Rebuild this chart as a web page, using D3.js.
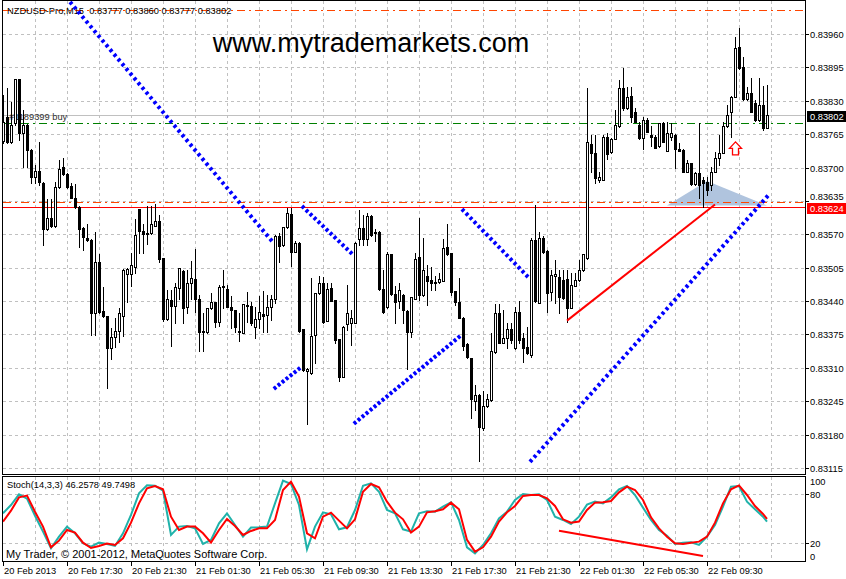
<!DOCTYPE html>
<html>
<head>
<meta charset="utf-8">
<script src="https://cdn.jsdelivr.net/npm/d3@7/dist/d3.min.js"></script>
<style>
html,body{margin:0;padding:0;background:#fff;}
svg{display:block;}
text{font-family:"Liberation Sans",Arial,sans-serif;}
</style>
</head>
<body>
<svg id="chart" width="846" height="579"></svg>
<script>
// ---------------- DATA ----------------
const headerText = "NZDUSD-Pro,M15  0.83777 0.83860 0.83777 0.83802";
const watermark = "www.mytrademarkets.com";
const stochTitle = "Stoch(14,3,3) 46.2578 49.7498";
const copyright = "My Trader, \u00A9 2001-2012, MetaQuotes Software Corp.";
const orderLabel = "#1189399 buy";

const openP = [0.83752,0.83798,0.83750,0.83786,0.83872,0.83768,0.83783,0.83734,0.83682,0.83693,0.83670,0.83580,0.83601,0.83587,0.83662,0.83702,0.83687,0.83664,0.83641,0.83623,0.83582,0.83563,0.83559,0.83417,0.83516,0.83421,0.83410,0.83349,0.83371,0.83382,0.83410,0.83493,0.83492,0.83507,0.83619,0.83576,0.83573,0.83572,0.83587,0.83596,0.83523,0.83405,0.83442,0.83431,0.83465,0.83499,0.83429,0.83475,0.83483,0.83444,0.83382,0.83380,0.83426,0.83438,0.83400,0.83467,0.83463,0.83428,0.83423,0.83382,0.83378,0.83430,0.83430,0.83390,0.83405,0.83415,0.83412,0.83428,0.83444,0.83567,0.83549,0.83584,0.83610,0.83536,0.83554,0.83385,0.83304,0.83299,0.83373,0.83455,0.83475,0.83402,0.83465,0.83442,0.83366,0.83293,0.83395,0.83398,0.83398,0.83561,0.83582,0.83561,0.83606,0.83573,0.83575,0.83463,0.83428,0.83531,0.83454,0.83440,0.83452,0.83421,0.83379,0.83445,0.83526,0.83451,0.83489,0.83481,0.83478,0.83477,0.83480,0.83545,0.83533,0.83459,0.83439,0.83408,0.83356,0.83329,0.83245,0.83257,0.83193,0.83235,0.83247,0.83340,0.83416,0.83359,0.83368,0.83386,0.83348,0.83418,0.83369,0.83350,0.83335,0.83559,0.83437,0.83563,0.83538,0.83457,0.83488,0.83486,0.83481,0.83483,0.83427,0.83470,0.83481,0.83501,0.83523,0.83746,0.83728,0.83676,0.83676,0.83760,0.83730,0.83756,0.83780,0.83854,0.83815,0.83839,0.83809,0.83783,0.83757,0.83793,0.83763,0.83760,0.83741,0.83786,0.83733,0.83760,0.83763,0.83737,0.83734,0.83692,0.83708,0.83668,0.83690,0.83676,0.83672,0.83666,0.83692,0.83718,0.83729,0.83780,0.83809,0.83838,0.83934,0.83896,0.83833,0.83845,0.83826,0.83793,0.83822,0.83777];
const highP = [0.83841,0.83854,0.83828,0.83873,0.83873,0.83812,0.83785,0.83736,0.83705,0.83750,0.83672,0.83638,0.83638,0.83671,0.83715,0.83719,0.83689,0.83670,0.83668,0.83625,0.83585,0.83591,0.83560,0.83575,0.83531,0.83468,0.83411,0.83388,0.83407,0.83427,0.83503,0.83505,0.83534,0.83599,0.83620,0.83590,0.83625,0.83625,0.83629,0.83608,0.83524,0.83462,0.83462,0.83475,0.83505,0.83500,0.83501,0.83518,0.83541,0.83452,0.83417,0.83427,0.83455,0.83439,0.83471,0.83500,0.83471,0.83449,0.83423,0.83416,0.83435,0.83458,0.83439,0.83429,0.83449,0.83460,0.83452,0.83451,0.83569,0.83572,0.83585,0.83622,0.83621,0.83556,0.83555,0.83386,0.83310,0.83484,0.83456,0.83488,0.83486,0.83475,0.83475,0.83442,0.83366,0.83391,0.83471,0.83423,0.83555,0.83617,0.83608,0.83612,0.83608,0.83580,0.83576,0.83501,0.83536,0.83532,0.83469,0.83475,0.83454,0.83423,0.83448,0.83533,0.83602,0.83562,0.83510,0.83507,0.83488,0.83494,0.83560,0.83591,0.83534,0.83460,0.83484,0.83409,0.83358,0.83330,0.83277,0.83259,0.83264,0.83260,0.83377,0.83434,0.83434,0.83423,0.83397,0.83397,0.83429,0.83441,0.83377,0.83390,0.83562,0.83628,0.83575,0.83567,0.83539,0.83501,0.83520,0.83501,0.83501,0.83501,0.83494,0.83494,0.83520,0.83532,0.83854,0.83763,0.83763,0.83692,0.83763,0.83767,0.83758,0.83812,0.83870,0.83893,0.83857,0.83857,0.83815,0.83789,0.83799,0.83796,0.83780,0.83763,0.83787,0.83789,0.83789,0.83786,0.83765,0.83747,0.83736,0.83715,0.83709,0.83692,0.83786,0.83682,0.83682,0.83702,0.83731,0.83763,0.83789,0.83822,0.83839,0.83955,0.83971,0.83916,0.83857,0.83874,0.83832,0.83874,0.83859,0.83860];
const lowP = [0.83748,0.83748,0.83747,0.83783,0.83754,0.83702,0.83702,0.83669,0.83669,0.83666,0.83549,0.83578,0.83585,0.83584,0.83660,0.83685,0.83660,0.83640,0.83622,0.83546,0.83539,0.83556,0.83374,0.83374,0.83417,0.83409,0.83271,0.83327,0.83351,0.83361,0.83372,0.83439,0.83469,0.83495,0.83534,0.83534,0.83551,0.83571,0.83586,0.83517,0.83402,0.83403,0.83353,0.83397,0.83444,0.83398,0.83416,0.83445,0.83419,0.83343,0.83343,0.83378,0.83425,0.83390,0.83392,0.83427,0.83428,0.83388,0.83380,0.83363,0.83377,0.83400,0.83393,0.83369,0.83387,0.83380,0.83380,0.83403,0.83436,0.83517,0.83547,0.83582,0.83508,0.83535,0.83380,0.83304,0.83201,0.83298,0.83319,0.83454,0.83397,0.83401,0.83440,0.83358,0.83285,0.83292,0.83384,0.83354,0.83397,0.83549,0.83549,0.83549,0.83567,0.83556,0.83462,0.83417,0.83427,0.83452,0.83397,0.83427,0.83397,0.83308,0.83371,0.83444,0.83442,0.83450,0.83432,0.83462,0.83462,0.83475,0.83479,0.83530,0.83452,0.83432,0.83407,0.83345,0.83329,0.83212,0.83228,0.83129,0.83189,0.83234,0.83246,0.83339,0.83358,0.83358,0.83348,0.83358,0.83347,0.83358,0.83322,0.83337,0.83332,0.83439,0.83436,0.83534,0.83418,0.83442,0.83436,0.83416,0.83445,0.83400,0.83426,0.83469,0.83479,0.83499,0.83522,0.83692,0.83669,0.83672,0.83675,0.83716,0.83728,0.83755,0.83779,0.83812,0.83814,0.83789,0.83788,0.83756,0.83737,0.83769,0.83741,0.83738,0.83740,0.83749,0.83732,0.83754,0.83699,0.83732,0.83691,0.83691,0.83666,0.83666,0.83641,0.83624,0.83647,0.83656,0.83691,0.83705,0.83728,0.83779,0.83760,0.83837,0.83892,0.83832,0.83832,0.83808,0.83791,0.83791,0.83773,0.83777];
const closeP = [0.83789,0.83750,0.83783,0.83872,0.83767,0.83783,0.83734,0.83682,0.83693,0.83672,0.83580,0.83602,0.83587,0.83663,0.83697,0.83687,0.83663,0.83641,0.83623,0.83580,0.83565,0.83558,0.83417,0.83516,0.83419,0.83410,0.83349,0.83370,0.83382,0.83417,0.83501,0.83503,0.83510,0.83569,0.83577,0.83570,0.83570,0.83590,0.83596,0.83522,0.83405,0.83444,0.83431,0.83468,0.83504,0.83427,0.83475,0.83484,0.83444,0.83380,0.83379,0.83426,0.83438,0.83400,0.83468,0.83469,0.83429,0.83423,0.83389,0.83380,0.83434,0.83432,0.83397,0.83405,0.83419,0.83411,0.83428,0.83444,0.83567,0.83548,0.83584,0.83611,0.83536,0.83554,0.83382,0.83306,0.83308,0.83372,0.83455,0.83475,0.83400,0.83463,0.83441,0.83364,0.83293,0.83390,0.83416,0.83408,0.83554,0.83582,0.83561,0.83605,0.83569,0.83575,0.83463,0.83418,0.83531,0.83454,0.83438,0.83462,0.83423,0.83380,0.83447,0.83521,0.83451,0.83501,0.83480,0.83475,0.83475,0.83483,0.83543,0.83532,0.83458,0.83439,0.83408,0.83353,0.83332,0.83250,0.83257,0.83195,0.83235,0.83249,0.83342,0.83416,0.83359,0.83368,0.83386,0.83364,0.83418,0.83364,0.83349,0.83338,0.83559,0.83440,0.83563,0.83535,0.83455,0.83491,0.83492,0.83448,0.83446,0.83427,0.83471,0.83481,0.83501,0.83531,0.83750,0.83728,0.83679,0.83682,0.83760,0.83726,0.83756,0.83782,0.83854,0.83815,0.83838,0.83799,0.83789,0.83757,0.83793,0.83770,0.83760,0.83739,0.83786,0.83750,0.83767,0.83767,0.83737,0.83733,0.83692,0.83708,0.83668,0.83690,0.83666,0.83670,0.83656,0.83692,0.83718,0.83729,0.83781,0.83802,0.83838,0.83932,0.83893,0.83833,0.83846,0.83809,0.83793,0.83822,0.83777,0.83802];

// price-axis tick labels and time-axis labels (bar index of each label)
const priceTicks = [0.83960,0.83895,0.83830,0.83765,0.83700,0.83635,0.83570,0.83505,0.83440,0.83375,0.83310,0.83245,0.83180,0.83115];
const timeLabels = ["20 Feb 2013","20 Feb 17:30","20 Feb 21:30","21 Feb 01:30","21 Feb 05:30","21 Feb 09:30","21 Feb 13:30","21 Feb 17:30","21 Feb 21:30","22 Feb 01:30","22 Feb 05:30","22 Feb 09:30"];
const timeLabelBars = [0,16,32,48,64,80,96,112,128,144,160,176];
const stochTicks = [100,80,20,0];
const stochLevels = [80,20];

// Stochastic (every second bar + last bar)
const stochBars = [0,2,4,6,8,10,12,14,16,18,20,22,24,26,28,30,32,34,36,38,40,42,44,46,48,50,52,54,56,58,60,62,64,66,68,70,72,74,76,78,80,82,84,86,88,90,92,94,96,98,100,102,104,106,108,110,112,114,116,118,120,122,124,126,128,130,132,134,136,138,140,142,144,146,148,150,152,154,156,158,160,162,164,166,168,170,172,174,176,178,180,182,184,186,188,190,191];
const stochMain = [56.5,66.6,79.6,74.3,53.6,34.2,13.9,28.1,40.3,32.2,20.0,15.9,20.8,19.2,16.8,32.2,54.5,80.8,90.5,90.1,84.1,30.1,40.3,41.1,38.2,19.2,24.1,44.3,56.5,42.3,28.1,39.1,39.5,40.3,68.6,96.2,92.2,66.6,12.7,40.3,57.7,55.3,37.0,39.5,60.5,90.1,93.0,82.8,60.5,56.5,37.0,34.2,56.5,58.9,58.5,64.6,69.9,48.4,15.1,7.8,18.0,32.2,50.4,58.5,72.7,80.0,78.8,79.6,72.7,52.4,48.4,43.5,52.4,67.0,70.7,68.6,75.9,85.7,89.7,78.8,63.4,48.4,36.2,29.3,19.2,20.8,21.2,18.0,28.1,42.3,64.6,88.9,89.7,70.7,61.4,52.4,46.26];
const stochSignal = [46.4,59.7,75.9,78.0,58.5,40.3,15.1,23.2,36.2,33.0,20.8,14.3,16.8,19.6,18.0,26.1,45.1,68.6,86.9,89.7,85.7,52.4,36.2,40.3,40.3,32.2,20.8,36.2,49.6,41.1,30.1,35.0,38.2,38.2,48.4,84.9,95.0,76.8,32.2,26.1,52.4,57.3,47.6,38.2,49.2,82.8,92.2,88.1,70.7,57.3,49.2,33.0,40.3,57.7,58.9,61.4,69.5,61.4,24.1,9.9,15.1,28.1,46.4,57.7,65.4,77.6,78.8,78.8,74.7,65.4,49.2,45.1,46.4,60.5,69.5,69.9,71.5,82.0,88.9,84.9,72.7,51.6,38.2,28.1,20.0,19.2,20.8,22.0,28.1,45.1,68.6,85.7,90.5,78.8,65.4,55.7,49.75];

// Objects on the chart (bar index, price)
const dotLineSegments = [[17,0.84020,67,0.83559],[68,0.83271,74,0.83308],[75,0.83623,87,0.83534],[88,0.83203,114,0.83370],[115,0.83617,131,0.83489],[132,0.83129,191,0.83643]];
const redTrend = [141,0.83402,178,0.83628];
const stochTrend = [139,35.3,175,4.5];
const triangle = [[166,0.83626],[176,0.83674],[191,0.83626]];
const arrowUp = [183,0.83750];
const bidPrice = 0.83802;
const orderOpen = 0.83787;
const orderSL = 0.83633;
const orderTP = 0.84007;
const hLinePrice = 0.83624;

// ---------------- DRAW ----------------
const svg = d3.select("#chart");
const W = 846, H = 579;
const mainL = 3, mainR = 805, mainT = 1, mainB = 474;
const subT = 477, subB = 561;

const x = d3.scaleLinear().domain([0, 191]).range([3, 767]);
const y = d3.scaleLinear().domain([0.83115, 0.83960]).range([468, 34]);
const ys = d3.scaleLinear().domain([20, 80]).range([543.3, 494]);

svg.append("rect").attr("width", W).attr("height", H).attr("fill", "#fff");

const defs = svg.append("defs");
defs.append("clipPath").attr("id", "clipMain").append("rect")
  .attr("x", mainL).attr("y", mainT).attr("width", mainR - mainL).attr("height", mainB - mainT);
defs.append("clipPath").attr("id", "clipSub").append("rect")
  .attr("x", mainL).attr("y", subT).attr("width", mainR - mainL).attr("height", subB - subT);

const gridColor = "#c0c0c0";
const grid = svg.append("g").attr("shape-rendering", "crispEdges");
const vBars = d3.range(8, 200, 8).filter(b => x(b) < mainR);
vBars.forEach(b => {
  const px = Math.round(x(b)) + 0.5;
  grid.append("line").attr("x1", px).attr("x2", px).attr("y1", mainT).attr("y2", mainB)
    .attr("stroke", gridColor).attr("stroke-dasharray", "3,3");
  grid.append("line").attr("x1", px).attr("x2", px).attr("y1", subT).attr("y2", subB)
    .attr("stroke", gridColor).attr("stroke-dasharray", "3,3");
});
priceTicks.forEach(p => {
  const py = Math.round(y(p)) + 0.5;
  grid.append("line").attr("x1", mainL).attr("x2", mainR).attr("y1", py).attr("y2", py)
    .attr("stroke", gridColor).attr("stroke-dasharray", "3,3");
});
stochLevels.forEach(v => {
  const py = Math.round(ys(v)) + 0.5;
  grid.append("line").attr("x1", mainL).attr("x2", mainR).attr("y1", py).attr("y2", py)
    .attr("stroke", gridColor).attr("stroke-dasharray", "3,3");
});

const main = svg.append("g").attr("clip-path", "url(#clipMain)");

main.append("path")
  .attr("d", d3.line().x(d => x(d[0])).y(d => y(d[1]))(triangle) + "Z")
  .attr("fill", "#b0c4de").attr("stroke", "none");

function hline(p, color, dash, w) {
  const py = Math.round(y(p)) + 0.5;
  main.append("line").attr("x1", mainL).attr("x2", mainR).attr("y1", py).attr("y2", py)
    .attr("stroke", color).attr("stroke-width", w || 1)
    .attr("stroke-dasharray", dash || null).attr("shape-rendering", "crispEdges");
}
hline(bidPrice, "#c0c0c0");
hline(orderOpen, "#008000", "8,4,2,4");
hline(orderSL, "#ff4500", "8,4,2,4");
hline(orderTP, "#ff4500", "8,4,2,4");
hline(hLinePrice, "#ff0000");

main.append("text").attr("x", 7).attr("y", 14).attr("font-size", 9.3)
  .style("white-space", "pre").attr("fill", "#000").text(headerText);
main.append("text").attr("x", 9).attr("y", 120).attr("font-size", 9.3)
  .attr("fill", "#303030").text(orderLabel);
main.append("text").attr("x", 371).attr("y", 52).attr("font-size", 27)
  .attr("text-anchor", "middle").attr("fill", "#000").text(watermark);

const cg = main.append("g").attr("shape-rendering", "crispEdges");
openP.forEach((o, i) => {
  const cx = Math.round(x(i));
  const yH = Math.round(y(highP[i])), yL = Math.round(y(lowP[i]));
  const yO = Math.round(y(o)), yC = Math.round(y(closeP[i]));
  cg.append("rect").attr("x", cx).attr("y", yH).attr("width", 1).attr("height", yL - yH + 1).attr("fill", "#000");
  const top = Math.min(yO, yC), bot = Math.max(yO, yC);
  cg.append("rect").attr("x", cx - 1).attr("y", top).attr("width", 3).attr("height", bot - top + 1).attr("fill", "#000");
  if (closeP[i] > o && bot - top > 1) {
    cg.append("rect").attr("x", cx).attr("y", top + 1).attr("width", 1).attr("height", bot - top - 1).attr("fill", "#fff");
  }
});

dotLineSegments.forEach(s => {
  const x1 = x(s[0]), y1 = y(s[1]), x2 = x(s[2]), y2 = y(s[3]);
  const len = Math.hypot(x2 - x1, y2 - y1);
  const n = s[2] - s[0];
  const period = len / n;
  const ux = (x2 - x1) / len, uy = (y2 - y1) / len;
  const d = 3;
  main.append("line")
    .attr("x1", x1 - ux * d / 2).attr("y1", y1 - uy * d / 2)
    .attr("x2", x2 + ux * d / 2).attr("y2", y2 + uy * d / 2)
    .attr("stroke", "#0000ff").attr("stroke-width", 4)
    .attr("stroke-dasharray", d + "," + (period - d).toFixed(3));
});

main.append("line")
  .attr("x1", x(redTrend[0])).attr("y1", y(redTrend[1]))
  .attr("x2", x(redTrend[2])).attr("y2", y(redTrend[3]))
  .attr("stroke", "#ff0000").attr("stroke-width", 2);

{
  const ax = x(arrowUp[0]) + 0.5, ay = y(arrowUp[1]);
  const pts = [[0,0],[6,6.5],[3,6.5],[3,13],[-3,13],[-3,6.5],[-6,6.5]];
  main.append("path")
    .attr("d", "M" + pts.map(p => (ax + p[0]) + "," + (ay + p[1])).join("L") + "Z")
    .attr("fill", "#fff").attr("stroke", "#ff0000").attr("stroke-width", 1.3);
}

const frame = svg.append("g").attr("shape-rendering", "crispEdges").attr("fill", "none").attr("stroke", "#000");
frame.append("rect").attr("x", mainL - 0.5).attr("y", mainT - 0.5).attr("width", mainR - mainL + 1).attr("height", mainB - mainT + 1);
frame.append("rect").attr("x", mainL - 0.5).attr("y", subT - 0.5).attr("width", mainR - mainL + 1).attr("height", subB - subT + 1);

const axisG = svg.append("g");
priceTicks.forEach(p => {
  const py = Math.round(y(p)) + 0.5;
  axisG.append("line").attr("x1", mainR).attr("x2", mainR + 4).attr("y1", py).attr("y2", py)
    .attr("stroke", "#000").attr("shape-rendering", "crispEdges");
  const nearBox = Math.abs(y(p) - y(hLinePrice)) < 9;
  axisG.append("text").attr("x", 810).attr("y", nearBox ? py - 1.5 : py + 3.5).attr("font-size", 9.3).attr("fill", "#000")
    .text(p.toFixed(5));
});
function priceBox(p, bg) {
  const py = y(p);
  axisG.append("rect").attr("x", 807).attr("y", Math.round(py) - 4).attr("width", 39).attr("height", 11)
    .attr("fill", bg).attr("shape-rendering", "crispEdges");
  axisG.append("text").attr("x", 810).attr("y", Math.round(py) + 4.5).attr("font-size", 9.3).attr("fill", "#fff")
    .text(p.toFixed(5));
}
priceBox(bidPrice, "#000");
priceBox(hLinePrice, "#ff0000");

timeLabels.forEach((t, k) => {
  const px = Math.round(x(timeLabelBars[k]));
  axisG.append("line").attr("x1", px + 0.5).attr("x2", px + 0.5).attr("y1", subB).attr("y2", subB + 5)
    .attr("stroke", "#000").attr("shape-rendering", "crispEdges");
  axisG.append("text").attr("x", px + 1).attr("y", 574).attr("font-size", 9.3).attr("fill", "#000").text(t);
});

const sub = svg.append("g").attr("clip-path", "url(#clipSub)");
const sLine = d3.line().x((d, k) => x(stochBars[k])).y(d => ys(d));
sub.append("path").attr("d", sLine(stochMain)).attr("fill", "none")
  .attr("stroke", "#20b2aa").attr("stroke-width", 2);
sub.append("path").attr("d", sLine(stochSignal)).attr("fill", "none")
  .attr("stroke", "#ff0000").attr("stroke-width", 2);
sub.append("line")
  .attr("x1", x(stochTrend[0])).attr("y1", ys(stochTrend[1]))
  .attr("x2", x(stochTrend[2])).attr("y2", ys(stochTrend[3]))
  .attr("stroke", "#ff0000").attr("stroke-width", 2);
sub.append("text").attr("x", 7).attr("y", 488).attr("font-size", 9.3).attr("fill", "#000").text(stochTitle);
sub.append("text").attr("x", 6).attr("y", 558).attr("font-size", 11).attr("fill", "#000").text(copyright);

stochTicks.forEach(v => {
  const py = Math.max(481.5, Math.min(556, ys(v)));
  if (v === 80 || v === 20) {
    axisG.append("line").attr("x1", mainR).attr("x2", mainR + 4).attr("y1", Math.round(ys(v)) + 0.5).attr("y2", Math.round(ys(v)) + 0.5)
      .attr("stroke", "#000").attr("shape-rendering", "crispEdges");
  }
  axisG.append("text").attr("x", 810).attr("y", py + 3.5).attr("font-size", 9.3).attr("fill", "#000").text(v);
});
</script>
</body>
</html>
